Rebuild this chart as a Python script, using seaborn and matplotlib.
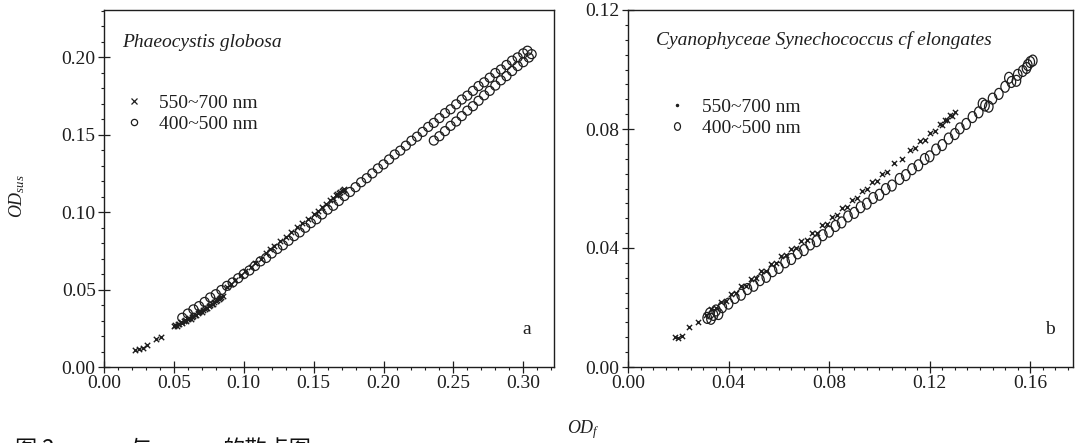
import numpy as np
import pandas as pd
import matplotlib
matplotlib.use("Agg")
import matplotlib.pyplot as plt
import seaborn as sns
from matplotlib.lines import Line2D
from matplotlib.path import Path
from matplotlib.ticker import MultipleLocator, FormatStrFormatter

# ---------------- data ----------------
band_labels = ["550~700 nm", "400~500 nm"]
panel_titles = ["Phaeocystis globosa", "Cyanophyceae Synechococcus cf elongates"]
panel_letters = ["a", "b"]

# Panel a: 550~700 nm (crosses)
a_red_x = [0.022, 0.025, 0.028, 0.031, 0.037, 0.041,
           0.050, 0.051, 0.052, 0.053, 0.054, 0.055, 0.056, 0.057, 0.058, 0.059,
           0.060, 0.061, 0.062, 0.063, 0.064, 0.065, 0.066, 0.067, 0.068, 0.069,
           0.070, 0.071, 0.072, 0.073, 0.074, 0.075, 0.076, 0.077, 0.078, 0.079,
           0.080, 0.081, 0.082, 0.083, 0.084, 0.085,
           0.088, 0.091, 0.094, 0.098, 0.101, 0.105, 0.108, 0.112, 0.116, 0.119,
           0.122, 0.126, 0.130, 0.134, 0.138, 0.142, 0.146, 0.150, 0.153, 0.156,
           0.159, 0.162, 0.164, 0.166, 0.167, 0.168, 0.169, 0.170, 0.171, 0.172]
a_red_y = [0.0109, 0.0118, 0.0125, 0.0141, 0.0179, 0.0192,
           0.0262, 0.0271, 0.0266, 0.0280, 0.0276, 0.0289, 0.0284, 0.0297, 0.0301, 0.0296,
           0.0310, 0.0318, 0.0312, 0.0326, 0.0331, 0.0338, 0.0334, 0.0347, 0.0352, 0.0360,
           0.0356, 0.0369, 0.0375, 0.0382, 0.0378, 0.0391, 0.0398, 0.0404, 0.0409, 0.0417,
           0.0423, 0.0430, 0.0436, 0.0444, 0.0450, 0.0458,
           0.0515, 0.0538, 0.0560, 0.0592, 0.0618, 0.0645, 0.0672, 0.0700, 0.0735, 0.0760,
           0.0782, 0.0814, 0.0842, 0.0870, 0.0903, 0.0930, 0.0958, 0.0990, 0.1010, 0.1035,
           0.1055, 0.1080, 0.1092, 0.1108, 0.1118, 0.1122, 0.1130, 0.1138, 0.1145, 0.1150]

# Panel a: 400~500 nm (circles)
a_blue_x = [0.056, 0.060, 0.064, 0.068, 0.072, 0.076, 0.080, 0.084, 0.088, 0.092, 0.096,
            0.100, 0.104, 0.108, 0.112, 0.116, 0.120, 0.124, 0.128, 0.132, 0.136,
            0.140, 0.144, 0.148, 0.152, 0.156, 0.160, 0.164, 0.168, 0.172, 0.176,
            0.180, 0.184, 0.188, 0.192, 0.196, 0.200, 0.204, 0.208, 0.212, 0.216,
            0.220, 0.224, 0.228, 0.232, 0.236, 0.240, 0.244, 0.248, 0.252, 0.256,
            0.260, 0.264, 0.268, 0.272, 0.276, 0.280, 0.284, 0.288, 0.292, 0.296,
            0.300, 0.303,
            0.236, 0.240, 0.244, 0.248, 0.252, 0.256, 0.260, 0.264, 0.268, 0.272,
            0.276, 0.280, 0.284, 0.288, 0.292, 0.296, 0.300, 0.304, 0.306]
a_blue_y = [0.0318, 0.0345, 0.0372, 0.0393, 0.0420, 0.0449, 0.0470, 0.0497, 0.0524, 0.0546, 0.0573,
            0.0600, 0.0623, 0.0652, 0.0682, 0.0704, 0.0733, 0.0762, 0.0786, 0.0815, 0.0845,
            0.0869, 0.0899, 0.0929, 0.0954, 0.0985, 0.1016, 0.1041, 0.1072, 0.1104, 0.1130,
            0.1161, 0.1193, 0.1219, 0.1250, 0.1282, 0.1308, 0.1340, 0.1372, 0.1397, 0.1429,
            0.1461, 0.1487, 0.1518, 0.1550, 0.1576, 0.1607, 0.1639, 0.1664, 0.1696, 0.1727,
            0.1752, 0.1783, 0.1814, 0.1838, 0.1868, 0.1898, 0.1921, 0.1950, 0.1978, 0.1999,
            0.2025, 0.2042,
            0.1462, 0.1490, 0.1523, 0.1557, 0.1585, 0.1620, 0.1655, 0.1684, 0.1719, 0.1754,
            0.1783, 0.1817, 0.1851, 0.1878, 0.1911, 0.1943, 0.1968, 0.1998, 0.2020]

# Panel b: 550~700 nm (crosses)
b_red_x = [0.0187, 0.0200, 0.0214, 0.0243, 0.0279,
           0.031, 0.033, 0.035, 0.037, 0.039, 0.041, 0.043, 0.045, 0.047, 0.049,
           0.051, 0.053, 0.055, 0.057, 0.059, 0.061, 0.063, 0.065, 0.067, 0.069,
           0.071, 0.073, 0.075, 0.077, 0.079, 0.081, 0.083, 0.085, 0.087, 0.089,
           0.091, 0.093, 0.095, 0.097, 0.099, 0.101, 0.103, 0.106, 0.109, 0.112,
           0.114, 0.116, 0.118, 0.120, 0.122, 0.124, 0.125, 0.126, 0.127, 0.128,
           0.129, 0.130]
b_red_y = [0.0102, 0.0099, 0.0104, 0.0134, 0.0152,
           0.0175, 0.0194, 0.0197, 0.0219, 0.0221, 0.0245, 0.0248, 0.0271, 0.0272, 0.0296,
           0.0299, 0.0322, 0.0323, 0.0347, 0.0350, 0.0372, 0.0375, 0.0398, 0.0400, 0.0423,
           0.0426, 0.0449, 0.0452, 0.0476, 0.0481, 0.0505, 0.0510, 0.0534, 0.0538, 0.0563,
           0.0567, 0.0592, 0.0597, 0.0621, 0.0626, 0.0650, 0.0655, 0.0686, 0.0698, 0.0730,
           0.0735, 0.0759, 0.0764, 0.0788, 0.0793, 0.0817, 0.0815, 0.0831, 0.0829, 0.0846,
           0.0843, 0.0858]

# Panel b: 400~500 nm (circles)
b_blue_x = [0.0315, 0.0325, 0.0330, 0.0340, 0.0350, 0.0360, 0.0375, 0.0400, 0.0425, 0.0450,
            0.0475, 0.0500, 0.0525, 0.0550, 0.0575, 0.0600, 0.0625, 0.0650, 0.0675, 0.0700,
            0.0725, 0.0750, 0.0775, 0.0800, 0.0825, 0.0850, 0.0875, 0.0900, 0.0925, 0.0950,
            0.0975, 0.1000, 0.1025, 0.1050, 0.1080, 0.1105, 0.1130, 0.1155, 0.1180, 0.1200,
            0.1225, 0.1250, 0.1275, 0.1300, 0.1320, 0.1345, 0.1370, 0.1395, 0.1410, 0.1420,
            0.1435, 0.1450, 0.1475, 0.1500, 0.1515, 0.1525, 0.1545, 0.1550, 0.1570, 0.1585,
            0.1590, 0.1600, 0.1610]
b_blue_y = [0.0165, 0.0180, 0.0162, 0.0175, 0.0190, 0.0178, 0.0201, 0.0213, 0.0232, 0.0243,
            0.0262, 0.0273, 0.0292, 0.0303, 0.0322, 0.0333, 0.0352, 0.0363, 0.0382, 0.0393,
            0.0412, 0.0423, 0.0443, 0.0455, 0.0474, 0.0486, 0.0506, 0.0518, 0.0537, 0.0549,
            0.0568, 0.0579, 0.0598, 0.0610, 0.0632, 0.0645, 0.0665, 0.0678, 0.0699, 0.0708,
            0.0731, 0.0746, 0.0768, 0.0783, 0.0802, 0.0817, 0.0840, 0.0856, 0.0885, 0.0879,
            0.0875, 0.0902, 0.0918, 0.0942, 0.0972, 0.0958, 0.0962, 0.0982, 0.0995, 0.1005,
            0.1015, 0.1025, 0.1030]

# ---------------- style ----------------
sns.set_theme(style="ticks")
plt.rcParams["font.family"] = ["Liberation Serif", "Noto Sans CJK SC", "DejaVu Sans"]
plt.rcParams["mathtext.fontset"] = "custom"
plt.rcParams["mathtext.it"] = "Liberation Serif:italic"
plt.rcParams["mathtext.rm"] = "Liberation Serif"
plt.rcParams["mathtext.bf"] = "Liberation Serif:bold"

INK = "#1e1e1e"
FS = 14

fig = plt.figure(figsize=(10.75, 4.43), dpi=100)
fig.patch.set_facecolor("white")
W, H = 1075.0, 443.0
axA = fig.add_axes([104 / W, 1 - 367 / H, (554 - 104) / W, (367 - 10) / H])
axB = fig.add_axes([628 / W, 1 - 367 / H, (1073 - 628) / W, (367 - 10) / H])

circ = Path.unit_circle()
ellipse = Path(circ.vertices * np.array([0.78, 1.0]), circ.codes)

# panel a
sns.scatterplot(x=a_red_x, y=a_red_y, ax=axA, marker="x", s=15, color=INK,
                linewidth=1.0, legend=False)
sns.scatterplot(x=a_blue_x, y=a_blue_y, ax=axA, marker="o", s=42, color=INK,
                facecolor="none", edgecolor=INK, linewidth=0.9, legend=False)
# panel b
sns.scatterplot(x=b_red_x, y=b_red_y, ax=axB, marker="x", s=14, color=INK,
                linewidth=1.0, legend=False)
sns.scatterplot(x=b_blue_x, y=b_blue_y, ax=axB, marker=ellipse, s=62, color=INK,
                facecolor="none", edgecolor=INK, linewidth=0.9, legend=False)

axA.set_xlim(0, 0.322)
axA.set_ylim(0, 0.2305)
axB.set_xlim(0, 0.177)
axB.set_ylim(0, 0.12)

axA.xaxis.set_major_locator(MultipleLocator(0.05))
axA.xaxis.set_minor_locator(MultipleLocator(0.01))
axA.yaxis.set_major_locator(MultipleLocator(0.05))
axA.yaxis.set_minor_locator(MultipleLocator(0.01))
axB.xaxis.set_major_locator(MultipleLocator(0.04))
axB.xaxis.set_minor_locator(MultipleLocator(0.005))
axB.yaxis.set_major_locator(MultipleLocator(0.04))
axB.yaxis.set_minor_locator(MultipleLocator(0.005))

for ax in (axA, axB):
    ax.set_facecolor("white")
    ax.xaxis.set_major_formatter(FormatStrFormatter("%.2f"))
    ax.yaxis.set_major_formatter(FormatStrFormatter("%.2f"))
    for sp in ax.spines.values():
        sp.set_visible(True)
        sp.set_color(INK)
        sp.set_linewidth(1.0)
    ax.tick_params(which="major", direction="inout", length=8, width=0.9,
                   colors=INK, labelsize=FS, pad=2, top=False, right=False)
    ax.tick_params(which="minor", direction="out", length=2.5, width=0.8,
                   colors=INK, top=False, right=False)
    ax.set_xlabel("")
    ax.set_ylabel("")
    for lab in ax.get_xticklabels() + ax.get_yticklabels():
        lab.set_family("Liberation Serif")

# titles
axA.text(0.04, 0.91, panel_titles[0], transform=axA.transAxes, fontsize=FS,
         style="italic", ha="left", va="center", color=INK)
axB.text(0.063, 0.916, panel_titles[1], transform=axB.transAxes, fontsize=FS,
         style="italic", ha="left", va="center", color=INK)

# panel letters
axA.text(0.94, 0.104, panel_letters[0], transform=axA.transAxes, fontsize=FS,
         ha="center", va="center", color=INK)
axB.text(0.948, 0.104, panel_letters[1], transform=axB.transAxes, fontsize=FS,
         ha="center", va="center", color=INK)

# legends
hA = [Line2D([], [], ls="none", marker="x", color=INK, markersize=4, mew=0.9),
      Line2D([], [], ls="none", marker="o", mfc="none", mec=INK, markersize=4.5, mew=0.9)]
hB = [Line2D([], [], ls="none", marker=".", color=INK, markersize=3),
      Line2D([], [], ls="none", marker=ellipse, mfc="none", mec=INK, markersize=5.5, mew=0.9)]
legA = axA.legend(hA, band_labels, loc="upper left", bbox_to_anchor=(0.044, 0.765),
                  frameon=False, fontsize=FS, handlelength=1.0, handletextpad=0.8,
                  labelspacing=0.2, borderpad=0, borderaxespad=0)
legB = axB.legend(hB, band_labels, loc="upper left", bbox_to_anchor=(0.088, 0.752),
                  frameon=False, fontsize=FS, handlelength=1.0, handletextpad=0.8,
                  labelspacing=0.17, borderpad=0, borderaxespad=0)
for leg in (legA, legB):
    for t in leg.get_texts():
        t.set_color(INK)

# axis labels
fig.text(17 / W, 1 - 196 / H, "$OD_{sus}$", rotation=90, ha="center", va="center",
         fontsize=13, color=INK)
fig.text(583 / W, 1 - 430 / H, "$OD_f$", ha="center", va="center",
         fontsize=13, color=INK)

# caption (cut off at the bottom edge in the reference)
cap_kw = dict(va="top", ha="left", fontsize=16, color="#111111",
              family=["Noto Sans CJK SC", "DejaVu Sans"])
fig.text(15 / W, 1 - 438 / H, "图 2", **cap_kw)
fig.text(130 / W, 1 - 438 / H, "与", **cap_kw)
fig.text(222 / W, 1 - 438 / H, "的散点图", **cap_kw)

fig.savefig("out.png", dpi=100, facecolor="white")
